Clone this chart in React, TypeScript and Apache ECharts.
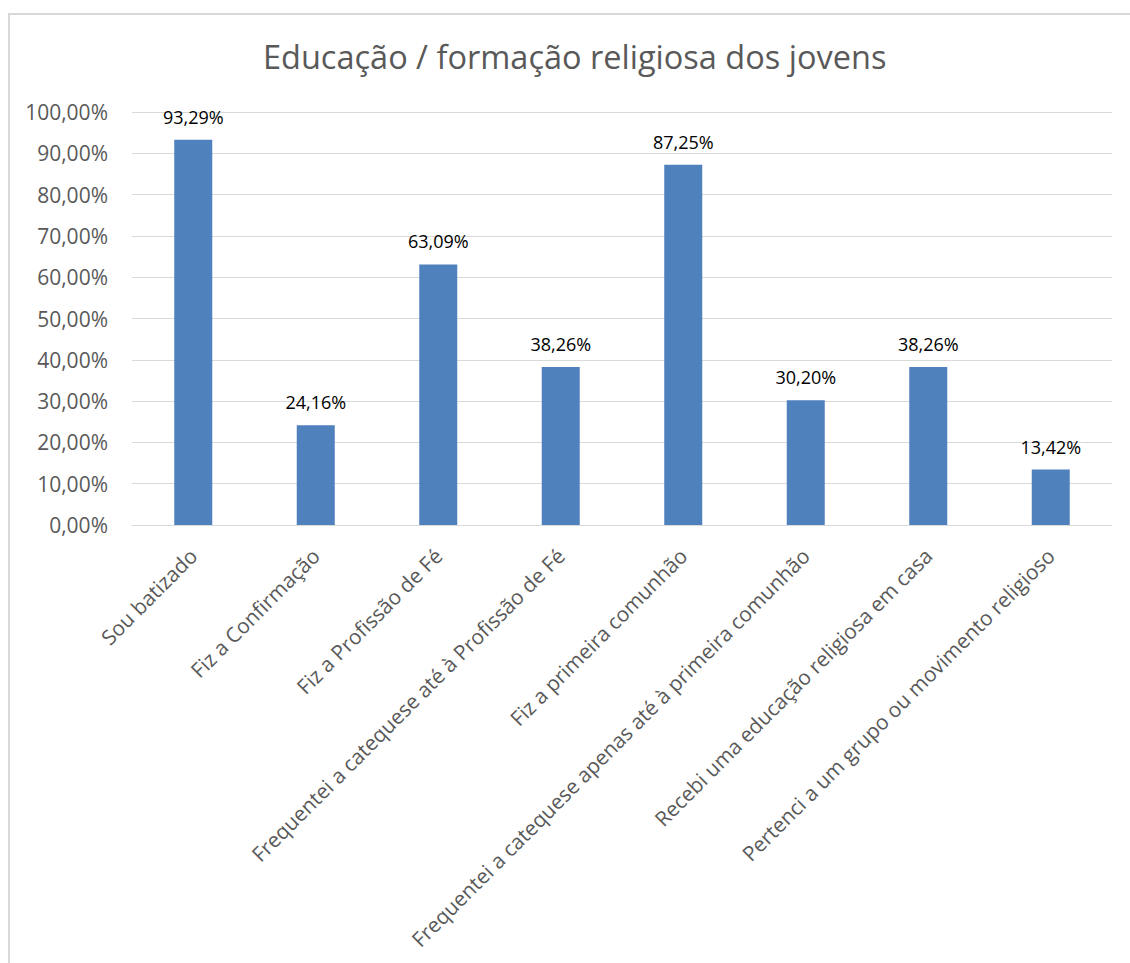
import React, { useEffect, useRef } from "react";
import * as echarts from "echarts";

const categories = [
  "Sou batizado",
  "Fiz a Confirmação",
  "Fiz a Profissão de Fé",
  "Frequentei a catequese até à Profissão de Fé",
  "Fiz a primeira comunhão",
  "Frequentei a catequese apenas até à primeira comunhão",
  "Recebi uma educação religiosa em casa",
  "Pertenci a um grupo ou movimento religioso",
];
const values = [0.9329, 0.2416, 0.6309, 0.3826, 0.8725, 0.302, 0.3826, 0.1342];
const title = "Educação / formação religiosa dos jovens";

const fmt = (v: number) => (v * 100).toFixed(2).replace(".", ",") + "%";
const FONT = "'Open Sans', sans-serif";

export default function App() {
  const ref = useRef<HTMLDivElement>(null);
  useEffect(() => {
    const chart = echarts.init(ref.current!, null, { renderer: "svg" });
    chart.setOption({
      animation: false,
      backgroundColor: "#ffffff",
      title: {
        text: title,
        left: 258,
        top: 35,
        textStyle: { fontFamily: FONT, fontSize: 32.5, fontWeight: "normal", color: "#595959" },
      },
      graphic: [
        {
          type: "rect",
          shape: { x: 9, y: 14, width: 1140, height: 980 },
          style: { fill: "none", stroke: "#d9d9d9", lineWidth: 2 },
          silent: true,
        },
      ],
      grid: { left: 132, right: 18, top: 112, bottom: 438, containLabel: false },
      xAxis: {
        type: "category",
        data: categories,
        axisLine: { lineStyle: { color: "#d9d9d9" } },
        axisTick: { show: false },
        axisLabel: {
          rotate: 45,
          interval: 0,
          margin: 27,
          fontFamily: FONT,
          fontSize: 20.8,
          color: "#595959",
        },
      },
      yAxis: {
        type: "value",
        min: 0,
        max: 1,
        interval: 0.1,
        axisLine: { show: false },
        axisTick: { show: false },
        splitLine: { lineStyle: { color: "#d9d9d9", width: 1 } },
        axisLabel: {
          formatter: (v: number) => fmt(v),
          fontFamily: FONT,
          fontSize: 21,
          color: "#595959",
          margin: 24,
        },
      },
      series: [
        {
          type: "bar",
          data: values,
          barWidth: 38,
          itemStyle: { color: "#4f81bd" },
          label: {
            show: true,
            position: "top",
            distance: 14,
            formatter: (p: any) => fmt(p.value),
            fontFamily: FONT,
            fontSize: 18,
            color: "#000000",
          },
        },
      ],
    });
    return () => chart.dispose();
  }, []);
  return (
    <div
      ref={ref}
      style={{ position: "absolute", left: 0, top: 0, width: 1130, height: 963 }}
    />
  );
}
